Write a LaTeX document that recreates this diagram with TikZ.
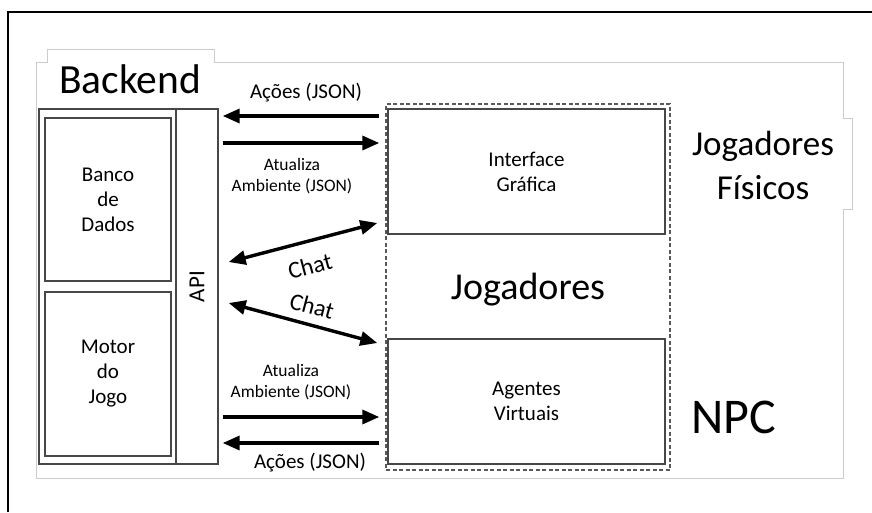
\documentclass[tikz,border=0pt]{standalone}
\usepackage{fontspec}
\setmainfont{Carlito}
\usetikzlibrary{arrows.meta}
\begin{document}
\begin{tikzpicture}[x=1pt,y=-1pt,
  frame/.style={draw=black!20, line width=0.9pt},
  border/.style={draw=black, line width=1.6pt},
  box/.style={draw=black!72, line width=1.4pt, align=center, inner sep=0pt,
    font=\fontsize{21}{25}\selectfont},
  group/.style={draw=black!65, line width=1.1pt, dash pattern=on 4pt off 2.5pt, inner sep=0pt},
  tip/.tip={Triangle[length=17pt,width=14pt]},
  flow/.style={line width=3.4pt, -tip},
  chat/.style={line width=3.4pt, tip-tip},
  lbl/.style={font=\fontsize{21}{24}\selectfont, inner sep=0pt},
  small/.style={font=\fontsize{17.5}{21}\selectfont, align=center, inner sep=0pt},
  big/.style={font=\fontsize{38}{44}\selectfont, align=center, inner sep=0pt}]
\useasboundingbox (0,0) rectangle (872,512);

% page frame and the light outline behind the drawing
\draw[border] (8,512) -- (8,12) -- (872,12);
\draw[frame] (36,62) -- (47,62) -- (47,49) -- (214,49) -- (214,62) -- (843,62)
  -- (843,118) -- (852,118) -- (852,209) -- (843,209) -- (843,478) -- (36,478) -- cycle;

% backend
\node[box, minimum width=179pt, minimum height=355pt] (backend) at (128.5,286.5) {};
\node[box, minimum width=42pt, minimum height=355pt] (api) at (197,286.5) {};
\node[box, minimum width=126pt, minimum height=163pt] (banco) at (108,199.5) {Banco\\de\\Dados};
\node[box, minimum width=126pt, minimum height=164pt] (motor) at (108,374) {Motor\\do\\Jogo};
\node[rotate=90, font=\fontsize{23}{26}\selectfont, inner sep=0pt] (apitxt) at (api.center) {API};
\node[big, font=\fontsize{41.5}{46}\selectfont] (backendlbl) at (130,79) {Backend};

% players
\node[group, minimum width=284pt, minimum height=366pt] (players) at (528,287) {};
\node[box, minimum width=277pt, minimum height=125pt] (gui) at (526.5,171.5) {Interface\\Gráfica};
\node[box, minimum width=277pt, minimum height=125pt] (agents) at (526.5,401.5) {Agentes\\Virtuais};
\node[big] (playerslbl) at (528,290) {Jogadores};
\node[big, font=\fontsize{35}{44}\selectfont] (humanlbl) at (763,165) {Jogadores\\Físicos};
\node[big, font=\fontsize{50}{56}\selectfont] (npclbl) at (734,417) {NPC};

% messages between the API and the players
\draw[flow] ([xshift=-8pt]gui.west |- 0,116) -- ([xshift=4pt]api.east |- 0,116);
\draw[flow] ([xshift=4pt]api.east |- 0,143) -- ([xshift=-8pt]gui.west |- 0,143);
\draw[chat] ([xshift=10pt]api.east |- 0,262) -- ([xshift=-10pt]gui.west |- 0,223);
\draw[chat] ([xshift=10pt]api.east |- 0,303) -- ([xshift=-10pt]agents.west |- 0,343);
\draw[flow] ([xshift=4pt]api.east |- 0,417) -- ([xshift=-8pt]agents.west |- 0,417);
\draw[flow] ([xshift=-8pt]agents.west |- 0,443) -- ([xshift=4pt]api.east |- 0,443);

\node[lbl] (actTop) at (306,93) {Ações (JSON)};
\node[small] (updTop) at (292,176.5) {Atualiza\\Ambiente (JSON)};
\node[lbl, font=\fontsize{24}{26}\selectfont, rotate=15] (chatTop) at (310,266) {Chat};
\node[lbl, font=\fontsize{24}{26}\selectfont, rotate=-15] (chatBot) at (312,306) {Chat};
\node[small] (updBot) at (291,382) {Atualiza\\Ambiente (JSON)};
\node[lbl] (actBot) at (310,463) {Ações (JSON)};
\end{tikzpicture}
\end{document}
